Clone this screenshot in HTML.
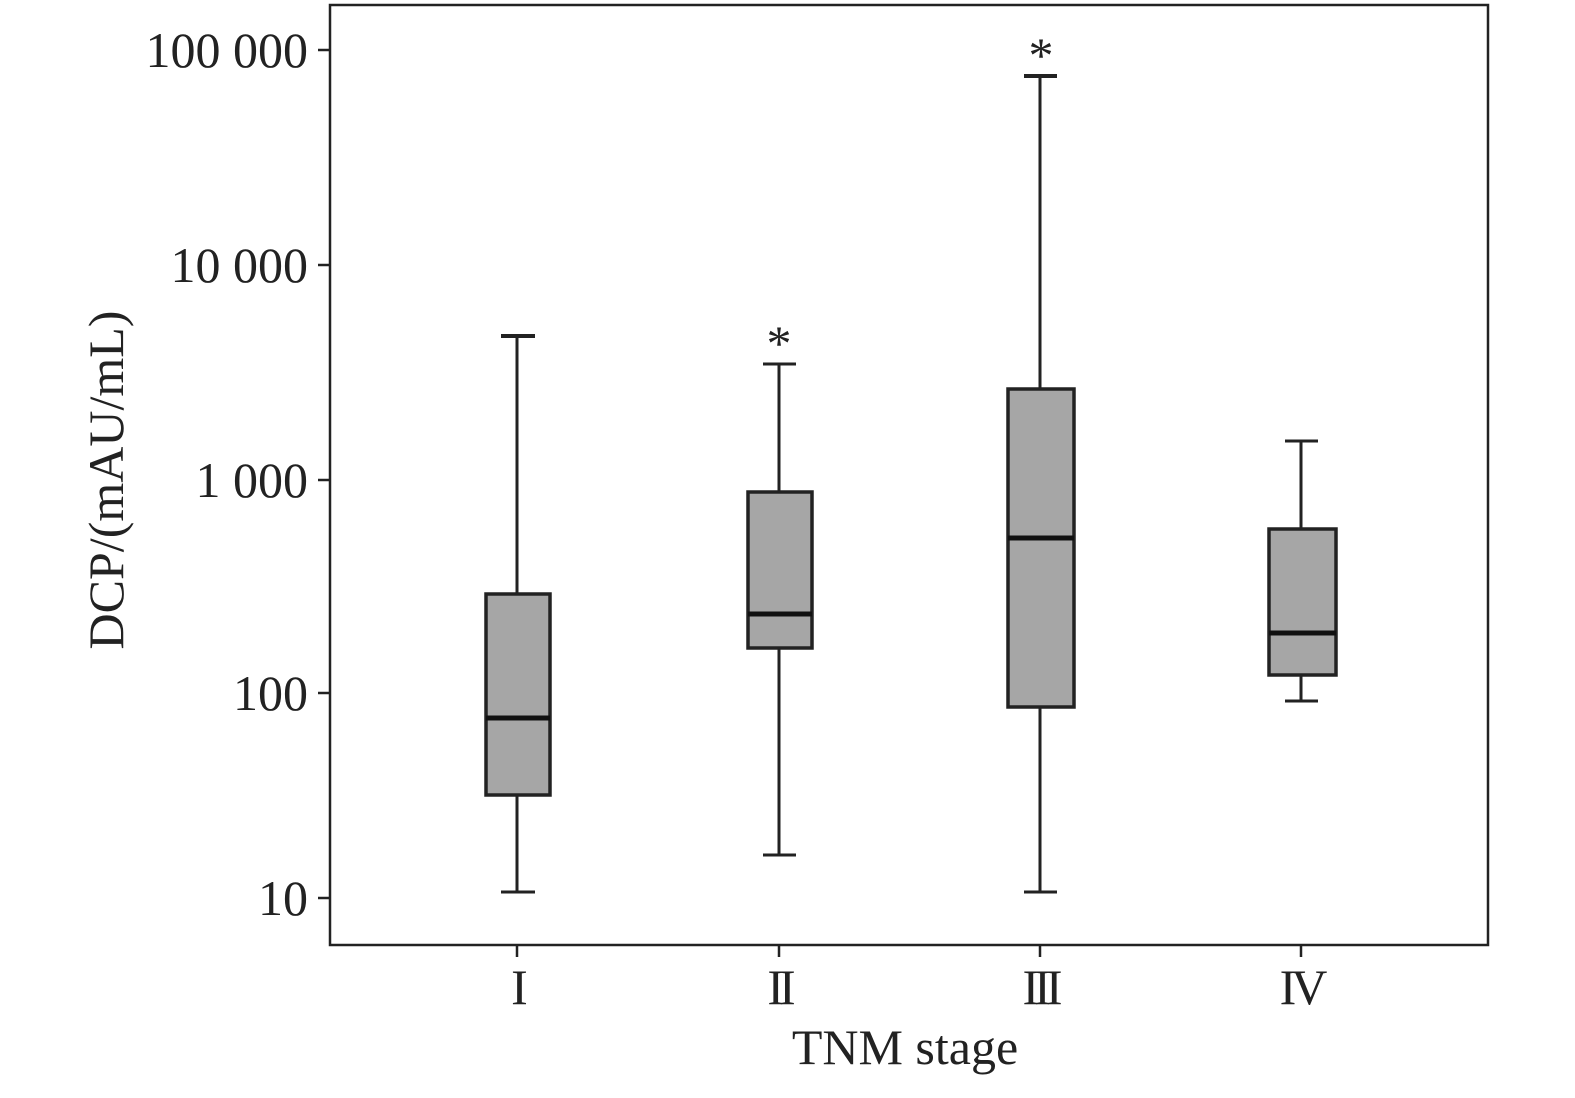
<!DOCTYPE html>
<html><head><meta charset="utf-8"><style>body{margin:0;background:#fff}</style></head>
<body>
<svg width="1575" height="1093" viewBox="0 0 1575 1093" xmlns="http://www.w3.org/2000/svg" font-family="Liberation Serif, serif" fill="#222">
<rect x="330" y="5" width="1158" height="940" fill="none" stroke="#222" stroke-width="2.5"/>
<g stroke="#222" stroke-width="2.5">
<line x1="318" y1="50" x2="330" y2="50"/><line x1="318" y1="265" x2="330" y2="265"/><line x1="318" y1="480" x2="330" y2="480"/><line x1="318" y1="693" x2="330" y2="693"/><line x1="318" y1="898" x2="330" y2="898"/>
<line x1="517" y1="945" x2="517" y2="957"/><line x1="779" y1="945" x2="779" y2="957"/><line x1="1040" y1="945" x2="1040" y2="957"/><line x1="1301" y1="945" x2="1301" y2="957"/>
</g>
<g font-size="50" text-anchor="end">
<text x="308" y="67">100 000</text><text x="308" y="282">10 000</text><text x="308" y="497">1 000</text><text x="308" y="710">100</text><text x="308" y="915">10</text>
</g>
<g font-size="50" text-anchor="middle" letter-spacing="-5">
<text x="517" y="1004">I</text><text x="779" y="1004">II</text><text x="1040" y="1004">III</text><text x="1301" y="1004">IV</text>
</g>
<text x="905" y="1064" font-size="50" text-anchor="middle">TNM stage</text>
<text transform="translate(123,480) rotate(-90)" font-size="50" text-anchor="middle">DCP/(mAU/mL)</text>
<g stroke="#222" stroke-width="3">
<line x1="517" y1="336" x2="517" y2="892"/><line x1="501" y1="336" x2="535" y2="336" stroke-width="4"/><line x1="501" y1="892" x2="535" y2="892"/>
<line x1="779" y1="364" x2="779" y2="855"/><line x1="763" y1="364" x2="796" y2="364"/><line x1="763" y1="855" x2="796" y2="855"/>
<line x1="1040" y1="76" x2="1040" y2="892"/><line x1="1024" y1="76" x2="1057" y2="76" stroke-width="4"/><line x1="1024" y1="892" x2="1057" y2="892"/>
<line x1="1301" y1="441" x2="1301" y2="701"/><line x1="1285" y1="441" x2="1318" y2="441"/><line x1="1285" y1="701" x2="1318" y2="701"/>
</g>
<g fill="#a6a6a6" stroke="#222" stroke-width="3.5">
<rect x="486" y="594" width="64" height="201"/>
<rect x="748" y="492" width="64" height="156"/>
<rect x="1008" y="389" width="66" height="318"/>
<rect x="1269" y="529" width="67" height="146"/>
</g>
<g stroke="#111" stroke-width="5">
<line x1="486" y1="718" x2="550" y2="718"/><line x1="748" y1="614" x2="812" y2="614"/><line x1="1008" y1="538" x2="1074" y2="538"/><line x1="1269" y1="633" x2="1336" y2="633"/>
</g>
<g font-size="50" text-anchor="middle">
<text x="779" y="360">*</text><text x="1041" y="72">*</text>
</g>
</svg>
</body></html>
